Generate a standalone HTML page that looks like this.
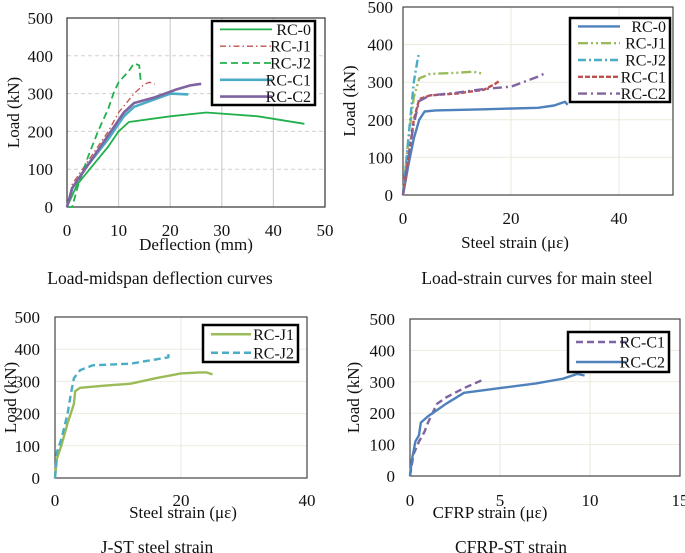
<!DOCTYPE html>
<html><head><meta charset="utf-8"><style>
body{margin:0;background:#fff;}
svg{display:block;font-family:"Liberation Serif",serif;}
</style></head><body>
<svg id="fig" width="685" height="553" viewBox="0 0 685 553" xmlns="http://www.w3.org/2000/svg"></svg>
<script>
// ---- Chart 1: load vs deflection ----
const c1XTicks=[0,10,20,30,40,50];
const c1YTicks=[0,100,200,300,400,500];
const c1Names=["RC-0","RC-J1","RC-J2","RC-C1","RC-C2"];
const c1RC0X=[0,2,5,8,10,12,20,27,37,46];
const c1RC0Y=[0,60,110,160,200,225,240,250,240,220];
const c1J1X=[0,1,4,8,10,13,15,16,17];
const c1J1Y=[0,60,120,200,250,300,325,330,325];
const c1J2X=[0,1,2,4,6,8,9,10,12,13,14,14.3];
const c1J2Y=[0,0,50,130,200,260,300,330,360,380,375,330];
const c1C1X=[0,1,4,8,11,13,16,20,23.5];
const c1C1Y=[0,50,110,180,240,265,280,300,298];
const c1C2X=[0,1,4,8,11,13,17,21,24,26];
const c1C2Y=[0,50,110,190,250,275,290,310,322,326];
// ---- Chart 2: load vs main steel strain ----
const c2XTicks=[0,20,40];
const c2YTicks=[0,100,200,300,400,500];
const c2RC0X=[0,1,2,3,4,6,15,25,28,30,30.5];
const c2RC0Y=[0,80,150,200,222,225,228,232,238,248,240];
const c2J1X=[0,1,2,3,5,10,13,15];
const c2J1Y=[0,150,260,310,322,325,328,322];
const c2J2X=[0,1,2,2.7,3];
const c2J2Y=[0,150,300,360,380];
const c2C1X=[0,1,2,3,5,10,15,17,18];
const c2C1Y=[0,100,200,255,265,270,280,295,305];
const c2C2X=[0,1,2,3,5,10,15,20,25,26.5];
const c2C2Y=[0,100,190,250,265,272,282,288,315,325];
// ---- Chart 3: J-ST steel strain ----
const c3XTicks=[0,20,40];
const c3YTicks=[0,100,200,300,400,500];
const c3J1X=[0,0.3,1,2,3,3.2,4,8,12,16,20,23,24,25];
const c3J1Y=[0,60,100,170,230,270,280,287,293,310,325,328,328,322];
const c3J2X=[0,0.3,1,2,2.5,3,4,6,12,18,18];
const c3J2Y=[0,80,120,200,260,310,335,350,355,375,385];
// ---- Chart 4: CFRP strain ----
const c4XTicks=[0,5,10,15];
const c4YTicks=[0,100,200,300,400,500];
const c4C1X=[0,0.2,0.5,0.8,1,1.5,2,3,4];
const c4C1Y=[0,70,110,140,170,230,250,280,305];
const c4C2X=[0,0.1,0.3,0.5,0.6,1,1.5,2,3,5,7,8.5,9.3,9.7];
const c4C2Y=[0,50,110,130,170,190,210,230,265,280,295,310,325,320];

const NS="http://www.w3.org/2000/svg";
const svg=document.getElementById('fig');
function mk(tag,attrs,parent){const e=document.createElementNS(NS,tag);for(const k in attrs)e.setAttribute(k,attrs[k]);(parent||svg).appendChild(e);return e;}

function chart(cfg){
  const g=mk('g',{});
  
  
  const {L,R,T,B,xmax,ymax}=cfg;
  const sx=v=>L+(v/xmax)*(R-L), sy=v=>B-(v/ymax)*(B-T);
  cfg.yTicks.forEach(t=>{
    if(t>0){const ln=mk('line',{x1:L,x2:R,y1:sy(t),y2:sy(t),stroke:cfg.gridCol,'stroke-width':1,'stroke-dasharray':cfg.hDash||'none'},g);
    
    }
    const tx=mk('text',{x:L-cfg.yGap,y:sy(t)+6,'text-anchor':'end','font-size':17,fill:'#111'},g);tx.textContent=t;
    
    
  });
  cfg.xTicks.forEach(t=>{
    if(t>0&&t<xmax){const ln=mk('line',{x1:sx(t),x2:sx(t),y1:T,y2:B,stroke:cfg.vGridCol||cfg.gridCol,'stroke-width':1.2},g);
    
    }
    const tx=mk('text',{x:sx(t),y:cfg.xTickY,'text-anchor':'middle','font-size':17,fill:'#111'},g);tx.textContent=t;
    
    
  });
  const fr=mk('rect',{x:L,y:T,width:R-L,height:B-T,fill:'none',stroke:cfg.frameCol,'stroke-width':1.2},g);
  
  
  cfg.series.forEach(s=>{
    const d=s.x.map((v,i)=>(i?'L':'M')+sx(v).toFixed(1)+' '+sy(s.y[i]).toFixed(1)).join(' ');
    const p=mk('path',{d:d,fill:'none',stroke:s.col,'stroke-width':s.w||2.2,'stroke-dasharray':s.dash||'none','stroke-linejoin':'round'},g);
    
    
  });
  const lg=mk('g',{},g);
  
  
  const lb=cfg.leg;
  mk('rect',{x:lb.x,y:lb.y,width:lb.w,height:lb.h,fill:'#fff',stroke:'#000','stroke-width':2.5},lg);
  const step=lb.h/cfg.series.length;
  cfg.series.forEach((s,i)=>{
    const yy=lb.y+step*(i+0.5);
    mk('line',{x1:lb.x+8,x2:lb.x+lb.lineW,y1:yy,y2:yy,stroke:s.col,'stroke-width':s.w||2.2,'stroke-dasharray':s.dash||'none'},lg);
    const tx=mk('text',{x:lb.x+lb.w-4,y:yy+5.5,'text-anchor':'end','font-size':16,fill:'#111'},lg);tx.textContent=s.label;
    
    
  });
  const yt=mk('text',{x:0,y:0,transform:`translate(${cfg.yTitleX},${(T+B)/2}) rotate(-90)`,'text-anchor':'middle','font-size':17,fill:'#111'},g);
  yt.textContent='Load (kN)';
  
  
  const xt=mk('text',{x:cfg.xTitleCX,y:cfg.xTitleY,'text-anchor':'middle','font-size':17,fill:'#111'},g);
  xt.textContent=cfg.xTitle;
  
  
  const cp=mk('text',{x:cfg.capX,y:cfg.capY,'text-anchor':'middle','font-size':cfg.capSize||17.5,fill:'#111'},g);
  cp.textContent=cfg.caption;
  
  
}

chart({name:'deflection-chart',L:67,R:325,T:18,B:207,xmax:50,ymax:500,xTicks:c1XTicks,yTicks:c1YTicks,
  gridCol:'#d0d0d0',hDash:'4 3',frameCol:'#333',yGap:14,xTickY:236,yTitleX:19,
  xTitle:'Deflection (mm)',xTitleCX:196,xTitleY:250,caption:'Load-midspan deflection curves',capX:160,capY:284,
  leg:{x:212,y:21,w:103,h:84,lineW:60},
  series:[
   {label:c1Names[0],x:c1RC0X,y:c1RC0Y,col:'#22b04c',w:1.8},
   {label:c1Names[1],x:c1J1X,y:c1J1Y,col:'#c0504d',w:1.3,dash:'6 3 1.5 3'},
   {label:c1Names[2],x:c1J2X,y:c1J2Y,col:'#22b04c',w:1.8,dash:'7 4'},
   {label:c1Names[3],x:c1C1X,y:c1C1Y,col:'#4bacc6',w:2.6},
   {label:c1Names[4],x:c1C2X,y:c1C2Y,col:'#8064a2',w:2.6}]});

chart({name:'main-steel-strain-chart',L:403,R:673,T:7,B:195,xmax:50,ymax:500,xTicks:c2XTicks,yTicks:c2YTicks,
  gridCol:'#ecebdf',frameCol:'#444',yGap:10,xTickY:224,yTitleX:355,
  xTitle:'Steel strain (\u03bc\u03b5)',xTitleCX:515,xTitleY:248,caption:'Load-strain curves for main steel',capX:537,capY:284,
  leg:{x:570,y:18,w:100,h:84,lineW:50},
  series:[
   {label:'RC-0',x:c2RC0X,y:c2RC0Y,col:'#4f81bd',w:2.4},
   {label:'RC-J1',x:c2J1X,y:c2J1Y,col:'#9bbb59',w:2.4,dash:'10 3 2 3 2 3'},
   {label:'RC-J2',x:c2J2X,y:c2J2Y,col:'#4bacc6',w:2.4,dash:'8 3 2 3'},
   {label:'RC-C1',x:c2C1X,y:c2C1Y,col:'#c0504d',w:2.4,dash:'5 2'},
   {label:'RC-C2',x:c2C2X,y:c2C2Y,col:'#8064a2',w:2.4,dash:'9 4 2 4'}]});

chart({name:'j-st-steel-strain-chart',L:55,R:307,T:317,B:478,xmax:40,ymax:500,xTicks:c3XTicks,yTicks:c3YTicks,
  gridCol:'#ecebdf',frameCol:'#444',yGap:15,xTickY:506,yTitleX:16,
  xTitle:'Steel strain (\u03bc\u03b5)',xTitleCX:183,xTitleY:518,caption:'J-ST steel strain',capX:157,capY:553,
  leg:{x:203,y:325,w:95,h:37,lineW:48},
  series:[
   {label:'RC-J1',x:c3J1X,y:c3J1Y,col:'#9bbb59',w:2.4},
   {label:'RC-J2',x:c3J2X,y:c3J2Y,col:'#4bacc6',w:2.4,dash:'7 4'}]});

chart({name:'cfrp-strain-chart',L:410,R:680,T:319,B:476,xmax:15,ymax:500,xTicks:c4XTicks,yTicks:c4YTicks,
  gridCol:'#ecebdf',frameCol:'#444',yGap:15,xTickY:506,yTitleX:359,
  xTitle:'CFRP strain (\u03bc\u03b5)',xTitleCX:490,xTitleY:518,caption:'CFRP-ST strain',capX:511,capY:553,
  leg:{x:568,y:332,w:101,h:40,lineW:58},
  series:[
   {label:'RC-C1',x:c4C1X,y:c4C1Y,col:'#8064a2',w:2.4,dash:'7 4'},
   {label:'RC-C2',x:c4C2X,y:c4C2Y,col:'#4f81bd',w:2.4}]});
</script>
</body></html>
